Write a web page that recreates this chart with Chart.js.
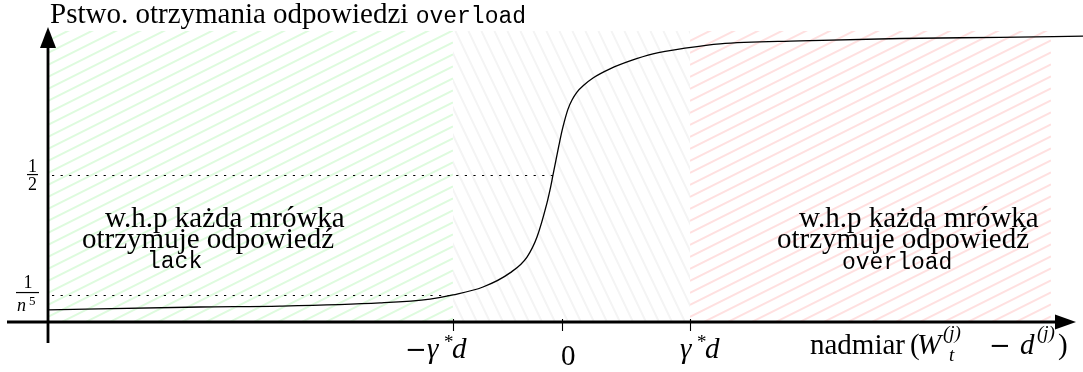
<!DOCTYPE html>
<html><head><meta charset="utf-8">
<script src="https://cdn.jsdelivr.net/npm/chart.js@4/dist/chart.umd.min.js"></script>
<style>html,body{margin:0;padding:0;background:#fff}#wrap{width:1083px;height:372px;position:relative}</style>
</head><body><div id="wrap"><canvas id="c"></canvas></div>
<script>
// ---- data ----
const curveX = [-5.14, -3.62, -2.82, -1.82, -1.32, -1.09, -0.79, -0.52, -0.35, -0.25, -0.15, -0.12, -0.09, -0.06, -0.03, 0.00, 0.03, 0.06, 0.10, 0.15, 0.22, 0.31, 0.48, 0.68, 0.91, 1.25, 1.58, 2.38, 3.38, 4.38, 5.21];
const curveY = [0.041, 0.051, 0.054, 0.065, 0.078, 0.092, 0.119, 0.167, 0.221, 0.289, 0.405, 0.449, 0.500, 0.551, 0.602, 0.650, 0.690, 0.724, 0.755, 0.782, 0.806, 0.830, 0.861, 0.888, 0.912, 0.932, 0.946, 0.956, 0.964, 0.968, 0.972];
const xTickValues = [-1.09, 0, 1.28];
const xTickLabels = ['−γ*d', '0', 'γ*d'];
const yGuideValues = [0.5, 0.092];
const yGuideEndX = [-0.09, -1.09];
const yGuideLabels = [['1', '2'], ['1', 'n', '5']];
const regionEdges = [-5.14, -1.09, 1.28, 4.89];
const regionTop = 0.99;
const axisOriginX = -5.14;
const titleText = ['Pstwo. otrzymania odpowiedzi ', 'overload'];
const axisLabelParts = ['nadmiar', '(', 'W', 't', '(j)', '−', 'd', '(j)', ')'];
const noteLines = ['w.h.p każda mrówka', 'otrzymuje odpowiedź'];
const noteKeywords = ['lack', 'overload'];

// ---- styling ----
const SERIF = '"Liberation Serif", "DejaVu Serif", serif';
const MONO = '"Liberation Mono", "DejaVu Sans Mono", monospace';
const fs = 29;

function txt(ctx, t, f, x, y) { ctx.font = f; ctx.fillText(t, x, y); return x + ctx.measureText(t).width; }

function hatchRising(ctx, x0, x1, y0, y1, slope, gap, color) {
  ctx.save(); ctx.beginPath(); ctx.rect(x0, y0, x1 - x0, y1 - y0); ctx.clip();
  ctx.strokeStyle = color; ctx.lineWidth = 2; ctx.beginPath();
  const w = x1 - x0;
  for (let c = y0 - 2; c <= y1 + slope * w + 2; c += gap) { ctx.moveTo(x0, c); ctx.lineTo(x1, c - slope * w); }
  ctx.stroke(); ctx.restore();
}
function hatchFalling(ctx, x0, x1, y0, y1, k, gap, color) {
  ctx.save(); ctx.beginPath(); ctx.rect(x0, y0, x1 - x0, y1 - y0); ctx.clip();
  ctx.strokeStyle = color; ctx.lineWidth = 2; ctx.beginPath();
  const h = (y1 - y0) / k;
  for (let c = x0 - h - 2; c <= x1 + 2; c += gap) { ctx.moveTo(c, y0); ctx.lineTo(c + h, y1); }
  ctx.stroke(); ctx.restore();
}

const bgPlugin = {
  id: 'bg',
  beforeDatasetsDraw(chart) {
    const ctx = chart.ctx, xs = chart.scales.x, ys = chart.scales.y;
    const top = ys.getPixelForValue(regionTop), bot = ys.getPixelForValue(0);
    const e = regionEdges.map(v => xs.getPixelForValue(v));
    hatchRising(ctx, e[0], e[1], top, bot, 0.5, 12, 'rgb(222,251,222)');
    hatchFalling(ctx, e[1], e[2], top, bot, 2.1, 13, 'rgb(244,244,244)');
    hatchRising(ctx, e[2], e[3], top, bot, 0.5, 12, 'rgb(255,224,224)');
    ctx.save(); ctx.strokeStyle = '#000'; ctx.lineWidth = 1.1; ctx.setLineDash([2.2, 6.4]);
    yGuideValues.forEach((v, i) => {
      const y = Math.round(ys.getPixelForValue(v)) + 0.5;
      ctx.beginPath(); ctx.moveTo(xs.getPixelForValue(axisOriginX) + 4, y); ctx.lineTo(xs.getPixelForValue(yGuideEndX[i]), y); ctx.stroke();
    });
    ctx.restore();
  }
};

const fgPlugin = {
  id: 'fg',
  afterDatasetsDraw(chart) {
    const ctx = chart.ctx, xs = chart.scales.x, ys = chart.scales.y;
    const ox = xs.getPixelForValue(axisOriginX), oy = ys.getPixelForValue(0);
    ctx.save();
    ctx.strokeStyle = '#000'; ctx.fillStyle = '#000'; ctx.lineWidth = 2.8;
    ctx.beginPath(); ctx.moveTo(7, oy); ctx.lineTo(1060, oy); ctx.stroke();
    ctx.beginPath(); ctx.moveTo(1076, oy); ctx.lineTo(1055, oy - 7.5); ctx.lineTo(1055, oy + 7.5); ctx.closePath(); ctx.fill();
    ctx.beginPath(); ctx.moveTo(ox, 343); ctx.lineTo(ox, 44); ctx.stroke();
    ctx.beginPath(); ctx.moveTo(ox, 27); ctx.lineTo(ox - 8, 48); ctx.lineTo(ox + 8, 48); ctx.closePath(); ctx.fill();
    ctx.lineWidth = 1.1;
    xTickValues.forEach(v => {
      const x = Math.round(xs.getPixelForValue(v)) + 0.5;
      ctx.beginPath(); ctx.moveTo(x, oy - 3); ctx.lineTo(x, oy + 9); ctx.stroke();
    });
    ctx.textBaseline = 'alphabetic'; ctx.textAlign = 'left';
    const it = `italic ${fs}px ${SERIF}`, up = `${fs}px ${SERIF}`, sm = `19px ${SERIF}`, smi = `italic 19px ${SERIF}`;
    const minus = `26px "DejaVu Serif", serif`;
    // x tick labels
    const t0 = xs.getPixelForValue(xTickValues[0]), t1 = xs.getPixelForValue(xTickValues[1]), t2 = xs.getPixelForValue(xTickValues[2]);
    const [m0, g0, s0, d0] = [...xTickLabels[0]];
    txt(ctx, m0, minus, t0 - 48, 358);
    txt(ctx, g0, it, t0 - 26, 358);
    txt(ctx, s0, sm, t0 - 9, 348);
    txt(ctx, d0, it, t0 - 1, 358);
    txt(ctx, xTickLabels[1], up, t1 - 1, 365);
    const [g2, s2, d2] = [...xTickLabels[2]];
    txt(ctx, g2, it, t2 - 10, 358);
    txt(ctx, s2, sm, t2 + 7, 348);
    txt(ctx, d2, it, t2 + 15, 358);
    // x axis label
    const L = axisLabelParts;
    txt(ctx, L[0], up, 810, 354);
    txt(ctx, L[1], up, 910, 354);
    txt(ctx, L[2], it, 917, 354);
    txt(ctx, L[3], smi, 949, 361);
    txt(ctx, L[4], smi, 943, 339);
    txt(ctx, L[5], minus, 989, 354);
    txt(ctx, L[6], it, 1020, 354);
    txt(ctx, L[7], smi, 1037, 339);
    txt(ctx, L[8], up, 1058, 354);
    // y fractions
    const fr = `18px ${SERIF}`, fri = `italic 18px ${SERIF}`;
    ctx.textAlign = 'center';
    const yh = ys.getPixelForValue(yGuideValues[0]);
    ctx.font = fr; ctx.fillText(yGuideLabels[0][0], 32.5, yh - 3); ctx.fillText(yGuideLabels[0][1], 32.5, yh + 15);
    ctx.fillRect(27, yh - 1, 11, 1.2);
    const yn = ys.getPixelForValue(yGuideValues[1]);
    ctx.fillText(yGuideLabels[1][0], 28, yn - 7);
    ctx.fillRect(16, yn - 3, 23, 1.2);
    ctx.textAlign = 'left';
    txt(ctx, yGuideLabels[1][1], fri, 17, yn + 16);
    txt(ctx, yGuideLabels[1][2], `13px ${SERIF}`, 29, yn + 10);
    // title
    let x = txt(ctx, titleText[0], up, 50, 23);
    txt(ctx, titleText[1], `23px ${MONO}`, x, 23);
    // notes
    const mono = `23px ${MONO}`;
    txt(ctx, noteLines[0], up, 105, 227); txt(ctx, noteLines[1], up, 82, 248);
    txt(ctx, noteKeywords[0], mono, 147, 268);
    txt(ctx, noteLines[0], up, 799, 227); txt(ctx, noteLines[1], up, 777, 248);
    txt(ctx, noteKeywords[1], mono, 842, 269);
    ctx.restore();
  }
};

new Chart(document.getElementById('c'), {
  type: 'line',
  data: { datasets: [{ data: curveX.map((v, i) => ({x: v, y: curveY[i]})), borderColor: '#000', borderWidth: 1.3, pointRadius: 0, cubicInterpolationMode: 'monotone', fill: false }] },
  options: {
    responsive: true, maintainAspectRatio: false, animation: false, events: [],
    layout: {padding: 0},
    plugins: {legend: {display: false}, tooltip: {enabled: false}},
    scales: {
      x: {type: 'linear', min: -5.62, max: 5.21, display: false},
      y: {type: 'linear', min: -0.17, max: 1.095, display: false}
    }
  },
  plugins: [bgPlugin, fgPlugin]
});
</script></body></html>
